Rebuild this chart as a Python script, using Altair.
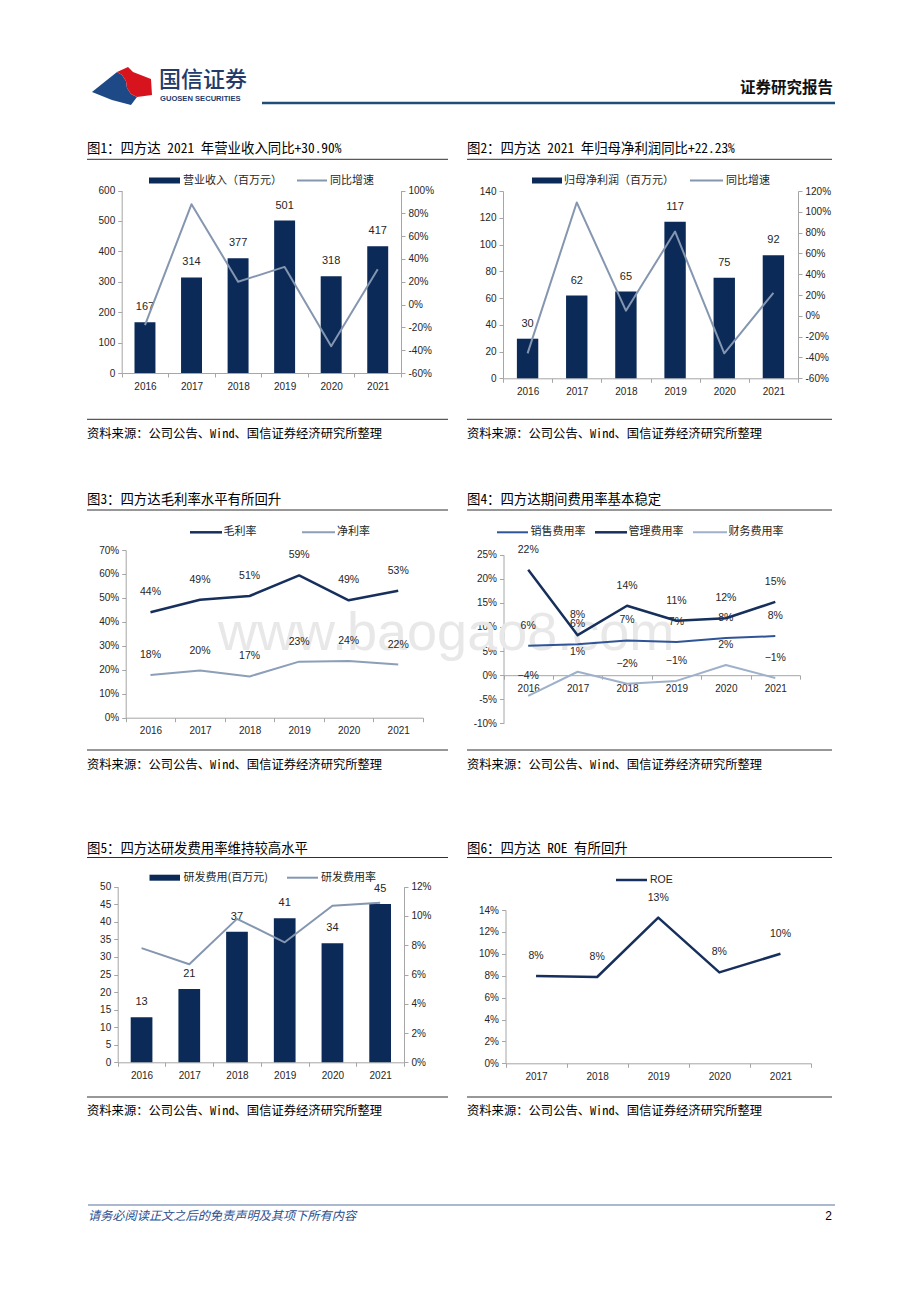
import altair as alt
import pandas as pd

W, H = 904, 1280


def X(v):
    return v - 8


def Y(v):
    return v - 8


# ---------------- data ----------------
years = ["2016", "2017", "2018", "2019", "2020", "2021"]
roe_years = ["2017", "2018", "2019", "2020", "2021"]

revenue = [167, 314, 377, 501, 318, 417]
revenue_yoy = [-18, 88, 20, 33, -36.5, 30.9]
net_profit = [29.6, 61.8, 64.8, 117.0, 75.2, 92.0]
net_profit_yoy = [-36, 109, 5, 81, -36, 22.2]
gross_margin = [44.0, 49.2, 50.8, 59.4, 49.0, 53.0]
net_margin = [17.8, 19.7, 17.2, 23.4, 23.7, 22.2]
selling_ratio = [6.1, 6.4, 7.2, 6.9, 7.7, 8.1]
admin_ratio = [21.9, 8.3, 14.4, 11.3, 11.8, 15.2]
finance_ratio = [-4.3, 0.7, -1.8, -1.2, 2.1, -0.6]
rd_expense = [12.8, 20.9, 37.2, 41.0, 33.9, 45.1]
rd_ratio = [7.8, 6.7, 9.8, 8.2, 10.7, 10.9]
roe = [7.97, 7.88, 13.3, 8.3, 10.0]

rev_ticks = [0, 100, 200, 300, 400, 500, 600]
rev_yoy_ticks = [-60, -40, -20, 0, 20, 40, 60, 80, 100]
np_ticks = [0, 20, 40, 60, 80, 100, 120, 140]
np_yoy_ticks = [-60, -40, -20, 0, 20, 40, 60, 80, 100, 120]
margin_ticks = [0, 10, 20, 30, 40, 50, 60, 70]
exp_ticks = [-10, -5, 0, 5, 10, 15, 20, 25]
rd_ticks = [0, 5, 10, 15, 20, 25, 30, 35, 40, 45, 50]
rd_ratio_ticks = [0, 2, 4, 6, 8, 10, 12]
roe_ticks = [0, 2, 4, 6, 8, 10, 12, 14]

titles = [
    "图1：四方达 2021 年营业收入同比+30.90%",
    "图2：四方达 2021 年归母净利润同比+22.23%",
    "图3：四方达毛利率水平有所回升",
    "图4：四方达期间费用率基本稳定",
    "图5：四方达研发费用率维持较高水平",
    "图6：四方达 ROE 有所回升",
]
source_text = "资料来源：公司公告、Wind、国信证券经济研究所整理"
legend1 = ["营业收入（百万元）", "同比增速"]
legend2 = ["归母净利润（百万元）", "同比增速"]
legend3 = ["毛利率", "净利率"]
legend4 = ["销售费用率", "管理费用率", "财务费用率"]
legend5 = ["研发费用(百万元)", "研发费用率"]
legend6 = ["ROE"]

# ---------------- style ----------------
NAVY_BAR = "#0b2a57"
GRAYBLUE = "#8496b0"
NAVY_LINE = "#172f5c"
MID_BLUE = "#2f5597"
LIGHT = "#9fb1ca"
AXC = "#a6a6a6"
LBL = "#262626"
NUMFONT = "Liberation Sans"
CJK = "Noto Sans CJK SC"
MONO = "Noto Sans Mono CJK SC, Noto Sans CJK SC, sans-serif"

layers = []


def txt(x, y, s, size, color="#000000", font=CJK, align="left", weight="normal",
        style="normal", baseline="middle"):
    return alt.Chart().mark_text(
        align=align, baseline=baseline, fontSize=size, font=font, color=color,
        fontWeight=weight, fontStyle=style
    ).encode(x=alt.value(X(x)), y=alt.value(Y(y)), text=alt.value(s))


def hrule(x0, x1, y, color, width):
    return alt.Chart().mark_rule(color=color, strokeWidth=width).encode(
        x=alt.value(X(x0)), x2=alt.value(X(x1)), y=alt.value(Y(y)))


def y_axis(orient, at_x, values, pct=False):
    offset = -X(at_x) if orient == "left" else X(at_x) - W
    kw = dict(orient=orient, offset=offset, values=values, title=None, grid=False,
              domainColor=AXC, tickColor=AXC, tickSize=4, labelPadding=3,
              labelFont=NUMFONT, labelFontSize=10, labelColor=LBL)
    if pct:
        kw["labelExpr"] = "datum.value + '%'"
    return alt.Axis(**kw)


def x_axis_layer(cats, x0, x1, at_y):
    df = pd.DataFrame({"cat": cats})
    return alt.Chart(df).mark_point(opacity=0).encode(
        x=alt.X("cat:N", sort=cats,
                scale=alt.Scale(type="band", domain=cats, range=[X(x0), X(x1)],
                                paddingInner=0, paddingOuter=0),
                axis=alt.Axis(orient="bottom", offset=Y(at_y) - H, title=None, labelAngle=0,
                              tickBand="extent", domainColor=AXC, tickColor=AXC, tickSize=4,
                              labelPadding=4, labelFont=NUMFONT, labelFontSize=10,
                              labelColor=LBL)))


def yscale(dom, rng):
    return alt.Scale(domain=dom, range=[Y(rng[0]), Y(rng[1])], nice=False, zero=False)


def point_x(cats, x0, x1):
    return alt.X("cat:N", sort=cats,
                 scale=alt.Scale(type="point", domain=cats, range=[X(x0), X(x1)], padding=0.5),
                 axis=None)


def bars(cats, vals, x0, x1, pi, dom, rng, axis):
    df = pd.DataFrame({"cat": cats, "v": vals})
    bar = alt.Chart(df).mark_bar(color=NAVY_BAR).encode(
        x=alt.X("cat:N", sort=cats,
                scale=alt.Scale(type="band", domain=cats, range=[X(x0), X(x1)],
                                paddingInner=pi, paddingOuter=pi / 2),
                axis=None),
        y=alt.Y("v:Q", scale=yscale(dom, rng), axis=axis))
    lab = alt.Chart(df).mark_text(dy=-15, fontSize=11, font=NUMFONT, color=LBL).encode(
        x=point_x(cats, x0, x1),
        y=alt.Y("v:Q", scale=yscale(dom, rng), axis=None),
        text=alt.Text("v:Q", format=".0f"))
    return [bar, lab]


def line(cats, vals, x0, x1, dom, rng, color, sw, axis=None, labels=False):
    df = pd.DataFrame({"cat": cats, "v": vals})
    out = [alt.Chart(df).mark_line(color=color, strokeWidth=sw, strokeJoin="round").encode(
        x=point_x(cats, x0, x1),
        y=alt.Y("v:Q", scale=yscale(dom, rng), axis=axis))]
    if labels:
        out.append(alt.Chart(df).transform_calculate(
            lab="format(datum.v, '.0f') + '%'"
        ).mark_text(dy=-20, fontSize=10.5, font=NUMFONT, color=LBL).encode(
            x=point_x(cats, x0, x1),
            y=alt.Y("v:Q", scale=yscale(dom, rng), axis=None),
            text="lab:N"))
    return out


# ---------------- watermark ----------------
layers.append(txt(218, 650, "www.baogao8.com", 54, color="#e8e8e8", font=NUMFONT,
                  baseline="alphabetic"))

# ---------------- header ----------------
red_path = ("M-0.161,-0.452 L0.194,-0.613 L0.355,-0.452 L0.935,-0.226 L0.968,0.290 "
            "L0.484,0.355 L0.290,0.258 L0.161,0.065 L0.129,-0.161 L0,-0.355 Z")
blue_path = ("M-0.968,0.194 L-0.161,-0.452 L0,-0.355 L0.129,-0.161 L0.161,0.065 "
             "L0.290,0.258 L0.484,0.355 L0.290,0.613 L-0.323,0.452 Z")
for shp, col in [(blue_path, "#1d4a86"), (red_path, "#d7141e")]:
    layers.append(alt.Chart().mark_point(shape=shp, filled=True, color=col, opacity=1,
                                         strokeWidth=0).encode(
        x=alt.value(X(122)), y=alt.value(Y(86)), size=alt.value(3844)))
layers.append(txt(159, 80, "国信证券", 22, color="#233a6b", weight=500))
layers.append(txt(160, 98.5, "GUOSEN SECURITIES", 7.6, color="#233a6b", font=NUMFONT, weight="bold"))
layers.append(txt(833, 88, "证券研究报告", 15.5, color="#111111", align="right", weight="bold"))
layers.append(hrule(262, 835, 103, "#1f4e79", 2.5))

# ---------------- panel frames ----------------
LEFT = (87, 448)
RIGHT = (467, 832)
rows = [(149, 159.3, 419.3, 434), (500, 510, 750, 765), (848.5, 857.5, 1097, 1111)]
for r, (ty, uy, sy, sty) in enumerate(rows):
    for c, (x0, x1) in enumerate([LEFT, RIGHT]):
        layers.append(txt(x0, ty, titles[r * 2 + c], 13.4, font=MONO))
        layers.append(hrule(x0, x1, uy, "#303030", 1))
        layers.append(hrule(x0, x1, sy, "#303030", 1))
        layers.append(txt(x0, sty, source_text, 12.3, font=MONO))

# ---------------- chart 1 ----------------
c1x = (121.7, 401)
c1r = (373, 190.5)
layers += [x_axis_layer(years, *c1x, 373)]
layers += bars(years, revenue, *c1x, 0.55, [0, 600], c1r, y_axis("left", 121.7, rev_ticks))
layers += line(years, revenue_yoy, *c1x, [-60, 100], c1r, GRAYBLUE, 2,
               axis=y_axis("right", 401, rev_yoy_ticks, pct=True))
layers.append(hrule(149, 180, 180.5, NAVY_BAR, 6))
layers.append(txt(183, 180.5, legend1[0], 11, color=LBL))
layers.append(hrule(297, 327, 180.5, GRAYBLUE, 2))
layers.append(txt(330, 180.5, legend1[1], 11, color=LBL))

# ---------------- chart 2 ----------------
c2x = (503, 798)
c2r = (378.3, 191)
layers += [x_axis_layer(years, *c2x, 378.3)]
layers += bars(years, net_profit, *c2x, 0.565, [0, 140], c2r, y_axis("left", 503, np_ticks))
layers += line(years, net_profit_yoy, *c2x, [-60, 120], c2r, GRAYBLUE, 2,
               axis=y_axis("right", 798, np_yoy_ticks, pct=True))
layers.append(hrule(532, 562, 180.5, NAVY_BAR, 6))
layers.append(txt(564, 180.5, legend2[0], 11, color=LBL))
layers.append(hrule(690, 723, 180.5, GRAYBLUE, 2))
layers.append(txt(726, 180.5, legend2[1], 11, color=LBL))

# ---------------- chart 3 ----------------
c3x = (125.7, 423)
c3r = (717.7, 550)
layers += [x_axis_layer(years, *c3x, 717.7)]
layers += line(years, gross_margin, *c3x, [0, 70], c3r, NAVY_LINE, 2.5,
               axis=y_axis("left", 125.7, margin_ticks, pct=True), labels=True)
layers += line(years, net_margin, *c3x, [0, 70], c3r, "#8c9eb8", 2, labels=True)
layers.append(hrule(190, 222, 532.3, NAVY_LINE, 2.5))
layers.append(txt(223.5, 532.3, legend3[0], 11, color=LBL))
layers.append(hrule(302, 335, 532.3, "#8c9eb8", 2))
layers.append(txt(337, 532.3, legend3[1], 11, color=LBL))

# ---------------- chart 4 ----------------
c4x = (503.5, 800)
c4r = (723.3, 554.7)
layers += [x_axis_layer(years, *c4x, 675.2)]
layers += line(years, selling_ratio, *c4x, [-10, 25], c4r, MID_BLUE, 2,
               axis=y_axis("left", 503.5, exp_ticks, pct=True), labels=True)
layers += line(years, admin_ratio, *c4x, [-10, 25], c4r, NAVY_LINE, 2.5, labels=True)
layers += line(years, finance_ratio, *c4x, [-10, 25], c4r, LIGHT, 2, labels=True)
for (a, b, tx), col, sw, name in zip(
        [(497, 528, 530.5), (595, 627, 628.5), (693, 727, 728.5)],
        [MID_BLUE, NAVY_LINE, LIGHT], [2, 2.5, 2], legend4):
    layers.append(hrule(a, b, 532.3, col, sw))
    layers.append(txt(tx, 532.3, name, 11, color=LBL))

# ---------------- chart 5 ----------------
c5x = (117.7, 404)
c5r = (1062.3, 886.7)
layers += [x_axis_layer(years, *c5x, 1062.3)]
layers += bars(years, rd_expense, *c5x, 0.545, [0, 50], c5r, y_axis("left", 117.7, rd_ticks))
layers += line(years, rd_ratio, *c5x, [0, 12], c5r, GRAYBLUE, 2,
               axis=y_axis("right", 404, rd_ratio_ticks, pct=True))
layers.append(hrule(149.5, 180, 877.7, NAVY_BAR, 6))
layers.append(txt(183.5, 877.7, legend5[0], 11, color=LBL))
layers.append(hrule(287, 318, 877.7, GRAYBLUE, 2))
layers.append(txt(321, 877.7, legend5[1], 11, color=LBL))

# ---------------- chart 6 ----------------
c6x = (505.5, 811)
c6r = (1063.3, 910)
layers += [x_axis_layer(roe_years, *c6x, 1063.3)]
layers += line(roe_years, roe, *c6x, [0, 14], c6r, NAVY_LINE, 2.5,
               axis=y_axis("left", 505.5, roe_ticks, pct=True), labels=True)
layers.append(hrule(616, 647, 880, NAVY_LINE, 2.5))
layers.append(txt(650, 880, legend6[0], 10.5, color=LBL, font=NUMFONT))

# ---------------- footer ----------------
layers.append(hrule(88, 835, 1205, "#8ea2bf", 1.5))
layers.append(txt(88, 1216, "请务必阅读正文之后的免责声明及其项下所有内容", 12.2,
                  color="#2a4f8f", style="italic"))
layers.append(txt(832, 1216, "2", 12, color="#000000", font=NUMFONT, align="right"))

chart = alt.layer(*layers, data=pd.DataFrame({"d": [0]})).resolve_scale(
    x="independent", y="independent"
).resolve_axis(
    x="independent", y="independent"
).properties(
    width=W, height=H, autosize=alt.AutoSizeParams(type="none"), padding=0
).configure_view(stroke=None)

chart.save("out.html", embed_options={"renderer": "svg", "actions": False})
